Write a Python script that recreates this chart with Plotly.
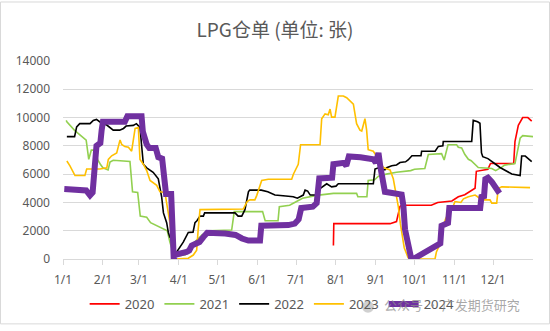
import pandas as pd
import plotly.graph_objects as go

# x values: days since 1 Jan; y values: warehouse receipts (张)
d2020 = [210, 210.3, 254, 256, 259, 261.7, 263, 286, 291, 302, 307, 312, 317, 320, 321, 330, 332, 350, 351, 353.6, 357, 361, 364]
v2020 = [960, 2500, 2500, 2550, 2650, 3720, 3800, 3800, 4000, 4100, 4400, 4550, 4850, 5000, 6200, 6350, 6750, 6750, 8300, 9450, 10000, 10000, 9750]

d2021 = [2.5, 3, 9, 13, 18, 20, 22, 25, 27, 29, 31, 35, 36.5, 39, 49, 52, 54, 58, 60, 65, 68, 73, 78, 81, 83, 85, 88, 95, 100, 108, 113, 131, 133, 155, 157, 167, 168, 176, 181, 186, 197, 210, 228, 229, 236, 237, 242, 245, 251, 259, 270, 273, 281, 283.7, 294, 296, 299, 305.7, 307, 309.6, 312, 314.8, 317, 322.5, 333, 336, 340.7, 343, 351, 354, 355, 357, 365]
v2021 = [9800, 9700, 9100, 8800, 8400, 7050, 7700, 7700, 7000, 6700, 6450, 6300, 6850, 6980, 6950, 6900, 4750, 4700, 3030, 2950, 2570, 2340, 2100, 2000, 1200, 600, 200, 300, 1000, 1700, 2000, 2050, 3350, 3350, 2700, 2700, 3700, 3800, 4050, 4300, 4500, 4640, 4640, 4400, 4400, 5550, 5600, 5850, 6000, 6130, 6250, 6350, 6400, 7390, 7450, 7000, 8080, 8080, 7900, 7850, 7400, 7050, 6950, 6470, 6400, 6250, 6500, 6640, 6750, 8300, 8540, 8720, 8650]

d2022 = [3, 9, 10.6, 13, 21, 23.5, 26, 30, 34, 39, 44, 47, 49, 54.6, 57, 59.8, 61, 62.4, 65, 70, 74, 76.6, 78, 80.5, 81.8, 83, 84.4, 85.7, 88.3, 93.4, 97.3, 101, 102.5, 104, 106.4, 109, 110, 133.6, 136, 138.8, 141.3, 144, 145, 154, 159, 164.6, 173, 178.8, 182, 186.6, 188, 190, 192, 197, 199.6, 204.8, 208.6, 212, 213.8, 241, 242.3, 245, 250, 251.4, 255.3, 259, 261.7, 266, 268, 271, 278, 278.5, 289, 291.5, 295, 295.3, 317.4, 318.6, 322, 323.8, 325, 326, 330, 333, 336, 339.4, 344, 348.5, 355, 356.2, 359, 364]
v2022 = [8650, 8650, 9340, 9570, 9570, 9800, 9870, 9600, 9470, 9110, 9110, 9230, 9400, 9450, 9570, 9300, 8080, 6700, 6450, 6130, 5670, 4400, 3260, 2570, 1880, 1540, 1500, 500, 500, 1190, 1880, 1900, 2570, 2700, 3030, 3030, 3260, 3260, 3030, 3030, 3490, 4750, 4870, 4870, 4750, 4520, 4450, 4400, 4300, 4520, 4870, 4800, 4520, 4520, 4980, 5320, 5100, 5150, 5320, 5320, 6360, 6450, 6300, 6450, 6590, 6650, 6820, 6870, 7000, 7300, 7300, 7620, 7620, 7960, 8000, 8310, 8310, 9800, 9700, 9600, 7500, 7230, 7100, 6930, 6700, 6470, 6250, 6010, 5900, 7280, 7280, 6890]

d2023 = [3, 5.4, 9.3, 17, 18.4, 28.7, 34, 35.2, 37.8, 41.7, 44.3, 45.6, 48, 50.8, 53.3, 56, 58.5, 59.8, 62.4, 65, 67.6, 72.8, 75.3, 79.2, 80.5, 83, 84.4, 85.7, 87, 97.3, 101.2, 103.8, 105, 106.4, 140, 141.3, 143, 145.2, 149, 150.5, 151.7, 153, 154.3, 159.4, 177.6, 179, 181.5, 182.7, 184.5, 199.6, 200.9, 203.5, 206, 207.4, 208.6, 211.2, 213.8, 217.7, 220.3, 223, 225.5, 228, 230.6, 232, 234.5, 235.8, 237, 241, 242.3, 243.6, 246, 248.7, 254, 256.5, 257.8, 259, 260.4, 262, 265, 268, 270, 288.9, 290, 292, 294, 297, 300, 303, 304.4, 309, 311, 314.8, 320, 322, 325, 331.6, 333, 336.8, 338, 340.7, 362.7]
v2023 = [6930, 6590, 5900, 5900, 6360, 6360, 6450, 7040, 7300, 7500, 8420, 8100, 7950, 7900, 7620, 9230, 9300, 7040, 6700, 6250, 5550, 5210, 4750, 4700, 3950, 2570, 1420, 280, 0, 50, 280, 620, 2110, 3490, 3530, 3720, 4060, 4180, 4180, 4500, 4870, 5200, 5550, 5640, 5640, 6010, 6470, 6700, 8080, 8080, 9920, 10260, 10200, 10600, 10030, 10030, 11520, 11520, 11400, 11180, 10950, 9570, 9110, 9050, 9920, 9110, 7730, 7620, 7450, 7300, 6900, 6470, 6300, 5670, 4980, 4290, 3700, 2500, 800, 100, 0, 0, 500, 900, 1900, 2800, 3400, 3720, 4060, 4000, 4250, 4400, 4520, 4400, 4180, 4180, 3950, 3950, 4980, 5100, 5050]

d2024 = [1, 12, 18, 21, 23, 26, 29, 30, 31, 48, 50, 61, 62, 65, 67, 72, 74, 77, 78, 80, 84, 86, 87, 96, 98, 100, 106, 109, 112, 126, 134, 139, 144, 153, 154, 175, 180, 183, 185, 194, 197, 199, 209, 210, 218, 220, 222, 231, 241, 243, 245, 246.5, 248.7, 250, 263, 264.3, 265.6, 268, 270.5, 273, 293, 294, 299, 300, 324, 325, 327, 328, 330, 333, 336, 339]
v2024 = [4950, 4950, 4850, 4500, 4700, 8000, 8200, 9100, 9700, 9700, 10100, 10100, 9000, 8100, 7850, 7850, 7200, 7100, 5900, 4600, 4600, 0, 300, 500, 600, 950, 1200, 1550, 1850, 1800, 1700, 1450, 1300, 1300, 2350, 2400, 2500, 2800, 3600, 3700, 3950, 5700, 5750, 6700, 6800, 6600, 7250, 7200, 7050, 6800, 7500, 6500, 5550, 4750, 4550, 3800, 2100, 950, 0, 50, 1100, 2350, 2550, 3600, 3600, 4400, 4450, 5650, 5750, 5450, 5100, 4650]

series = [
    ("2020", d2020, v2020, "#FF0000", 1.6),
    ("2021", d2021, v2021, "#92D050", 1.6),
    ("2022", d2022, v2022, "#000000", 1.6),
    ("2023", d2023, v2023, "#FFC000", 1.6),
    ("2024", d2024, v2024, "#7030A0", 6),
]

base = pd.Timestamp("2023-01-01")

def to_dates(days):
    return [base + pd.Timedelta(days=float(d)) for d in days]

fig = go.Figure()
for name, dd, vv, color, w in series:
    fig.add_trace(go.Scatter(x=to_dates(dd), y=vv, mode="lines", name=name,
                             line=dict(color=color, width=w)))

month_ticks = pd.date_range("2023-01-01", "2023-12-01", freq="MS")

FONT = "Noto Sans, Noto Sans CJK SC, sans-serif"
GRAY = "#595959"
GRID = "#D9D9D9"

fig.update_layout(
    width=550, height=331,
    margin=dict(l=63, r=17, t=61, b=67),
    paper_bgcolor="white", plot_bgcolor="white",
    font=dict(family=FONT, color=GRAY, size=12),
    title=dict(text="LPG仓单 (单位: 张)", x=0.5, xanchor="center", y=1 - 30 / 331, yanchor="middle",
               font=dict(family="Noto Sans CJK SC, sans-serif", size=19, color=GRAY)),
    showlegend=True,
    legend=dict(orientation="h", x=0.445, xanchor="center", y=-0.227, yanchor="middle",
                font=dict(size=13, color=GRAY), itemwidth=30, bgcolor="rgba(0,0,0,0)"),
    xaxis=dict(type="date", range=[base, pd.Timestamp("2024-01-01")],
               tickvals=month_ticks, tickformat="%-m/%-d",
               showgrid=False, showline=True, linecolor=GRID, linewidth=1,
               ticks="outside", ticklen=5, tickcolor=GRID,
               tickfont=dict(size=12, color=GRAY), ticklabelstandoff=5, fixedrange=True),
    yaxis=dict(range=[0, 14000], dtick=2000, tickformat="d", showgrid=True, gridcolor=GRID, gridwidth=1,
               zeroline=False, showline=False, ticks="", tickfont=dict(size=12, color=GRAY),
               ticklabelstandoff=12),
)

# outer chart border
fig.add_shape(type="rect", xref="paper", yref="paper",
              x0=(0.5 - 63) / 470, x1=(549.5 - 63) / 470,
              y0=(264 - 330.5) / 203, y1=(264 - 0.5) / 203,
              line=dict(color=GRID, width=1), layer="below")

# watermark
fig.add_shape(type="circle", xref="paper", yref="paper",
              x0=(362 - 63) / 470, x1=(374 - 63) / 470,
              y0=(264 - 319) / 203, y1=(264 - 307) / 203,
              fillcolor="rgba(150,150,150,0.45)", line=dict(width=0))
fig.add_annotation(text="公众号 · 广发期货研究", xref="paper", yref="paper",
                   x=(382 - 63) / 470, xanchor="left", y=(264 - 311) / 203, yanchor="middle",
                   showarrow=False,
                   font=dict(family="Noto Sans CJK SC, sans-serif", size=13, color="rgba(140,140,140,0.75)"))

fig.write_html("out.html")
